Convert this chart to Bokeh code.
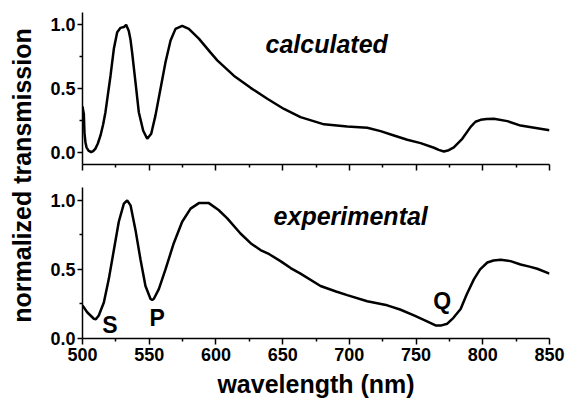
import math
from bokeh.plotting import figure
from bokeh.layouts import row, column
from bokeh.models import Range1d, FixedTicker, NumeralTickFormatter, Label, CustomJSTickFormatter
from bokeh.embed import file_html
from bokeh.resources import INLINE

# ---- data ----
calc_wl = [500, 501, 501.5, 502.2, 503, 504.5, 506.5, 508, 509.7, 511.5, 513.5, 515.5,
           517.2, 519, 521, 523.5, 526, 528.5, 531, 532.7, 534.7, 536, 537.2, 539.7,
           542.2, 545.5, 548.5, 551.5, 554.7, 558.5, 562.2, 566, 569.7, 574.7, 579.7,
           587.2, 596, 601, 613.4, 626, 638.5, 651, 663.4, 681, 698.4, 713.4, 723.4,
           733.4, 743.4, 753.4, 763.4, 767, 770.8, 774.5, 778.3, 784.6, 790.9, 794.5,
           798.4, 803, 808.3, 818.4, 828.3, 840.9, 850]
calc_tr = [0.36, 0.30, 0.15, 0.08, 0.04, 0.015, 0.003, 0.01, 0.03, 0.07, 0.133, 0.22,
           0.315, 0.45, 0.60, 0.81, 0.94, 0.974, 0.98, 0.998, 0.95, 0.88, 0.78, 0.55,
           0.315, 0.17, 0.107, 0.146, 0.29, 0.50, 0.705, 0.875, 0.966, 0.99, 0.966,
           0.89, 0.78, 0.72, 0.60, 0.505, 0.42, 0.34, 0.276, 0.22, 0.203, 0.193, 0.167,
           0.133, 0.099, 0.073, 0.037, 0.02, 0.008, 0.018, 0.04, 0.107, 0.20, 0.24,
           0.255, 0.262, 0.263, 0.245, 0.21, 0.19, 0.173]

exp_wl = [500, 503.5, 508.5, 510, 512.2, 516, 519.7, 523.5, 527.2, 531, 533.5, 536,
          539.7, 543.5, 547.2, 551, 552.2, 553.4, 557.2, 562.2, 568.4, 574.7, 581,
          587.2, 594.7, 602, 608.5, 618.4, 626, 633.4, 640, 648.4, 656, 663.4, 678.4,
          690, 698.4, 713.4, 728.4, 738, 748.4, 757, 764.6, 769, 773.4, 778, 783.4,
          788, 793.4, 798, 803.4, 808, 813.4, 820.8, 828.3, 835, 840.8, 850]
exp_tr = [0.24, 0.19, 0.143, 0.14, 0.167, 0.26, 0.43, 0.64, 0.845, 0.976, 1.0, 0.964,
          0.786, 0.57, 0.38, 0.286, 0.28, 0.286, 0.357, 0.50, 0.69, 0.845, 0.94,
          0.98, 0.98, 0.93, 0.87, 0.76, 0.69, 0.64, 0.61, 0.56, 0.51, 0.47, 0.38,
          0.34, 0.314, 0.27, 0.24, 0.21, 0.167, 0.13, 0.095, 0.095, 0.107, 0.15, 0.214,
          0.32, 0.43, 0.50, 0.55, 0.565, 0.57, 0.56, 0.536, 0.52, 0.505, 0.47]

x_major = [500, 550, 600, 650, 700, 750, 800, 850]
x_minor = [525, 575, 625, 675, 725, 775, 825]
y_major = [0.0, 0.5, 1.0]
y_minor = [0.25, 0.75]

panel_titles = ["calculated", "experimental"]
point_labels = ["S", "P", "Q"]
point_wl = [520.6, 556.0, 769.6]
point_tr = [0.10, 0.15, 0.27]

FONT = "Liberation Sans"
x_range = Range1d(500, 850)


def style(p, show_x_labels):
    p.grid.visible = False
    p.outline_line_color = None
    p.background_fill_color = "white"
    p.border_fill_color = "white"
    for ax in (p.xaxis[0], p.yaxis[0]):
        ax.axis_line_width = 1.5
        ax.axis_line_color = "black"
        ax.major_tick_line_width = 1.5
        ax.minor_tick_line_width = 1.5
        ax.major_tick_line_color = "black"
        ax.minor_tick_line_color = "black"
        ax.major_tick_in = 0
        ax.minor_tick_in = 0
        ax.major_label_text_font = FONT
        ax.major_label_text_font_style = "bold"
        ax.major_label_text_font_size = "18px"
        ax.major_label_text_color = "black"
    p.xaxis.ticker = FixedTicker(ticks=x_major, minor_ticks=x_minor)
    p.xaxis.major_tick_out = 6
    p.xaxis.minor_tick_out = 3
    p.yaxis.ticker = FixedTicker(ticks=y_major, minor_ticks=y_minor)
    p.yaxis.formatter = NumeralTickFormatter(format="0.0")
    p.yaxis.major_tick_out = 5
    p.yaxis.minor_tick_out = 3
    p.yaxis.major_label_standoff = 2
    if not show_x_labels:
        p.xaxis.formatter = CustomJSTickFormatter(code="return '';")
        p.xaxis.major_label_text_font_size = "1px"
        p.xaxis.major_label_standoff = 0


# ---- top panel: calculated ----
top = figure(width=525, height=176, x_range=x_range, y_range=Range1d(-0.094, 1.094),
             output_backend="svg", toolbar_location=None,
             min_border_left=40, min_border_right=18, min_border_top=12, min_border_bottom=12)
style(top, False)
top.line(calc_wl, calc_tr, line_color="black", line_width=2.5)
top.add_layout(Label(x=683, y=0.848, text=panel_titles[0], text_font=FONT,
                     text_font_style="bold italic", text_font_size="25px",
                     text_align="center", text_baseline="middle", text_color="black"))

# ---- bottom panel: experimental ----
bot = figure(width=525, height=224, x_range=x_range, y_range=Range1d(0.0, 1.093),
             output_backend="svg", toolbar_location=None,
             min_border_left=40, min_border_right=18, min_border_top=11, min_border_bottom=60)
style(bot, True)
bot.xaxis.major_label_standoff = 3
bot.xaxis.axis_label = "wavelength (nm)"
bot.xaxis.axis_label_text_font = FONT
bot.xaxis.axis_label_text_font_style = "bold"
bot.xaxis.axis_label_text_font_size = "25px"
bot.xaxis.axis_label_text_color = "black"
bot.xaxis.axis_label_standoff = 6
bot.line(exp_wl, exp_tr, line_color="black", line_width=2.5)
bot.add_layout(Label(x=701, y=0.89, text=panel_titles[1], text_font=FONT,
                     text_font_style="bold italic", text_font_size="25px",
                     text_align="center", text_baseline="middle", text_color="black"))
bot.text(x=point_wl, y=point_tr, text=point_labels, text_font={"value": FONT},
         text_font_style="bold", text_font_size="23px", text_align="center",
         text_baseline="middle", text_color="black")

# ---- y label strip ----
lab = figure(width=42, height=400, x_range=Range1d(0, 1), y_range=Range1d(0, 1),
             output_backend="svg", toolbar_location=None,
             x_axis_type=None, y_axis_type=None,
             min_border_left=0, min_border_right=0, min_border_top=0, min_border_bottom=0)
lab.grid.visible = False
lab.outline_line_color = None
lab.add_layout(Label(x=0.51, y=0.5625, text="normalized transmission", text_font=FONT,
                     text_font_style="bold", text_font_size="25px", angle=math.pi / 2,
                     text_align="center", text_baseline="middle", text_color="black"))

layout = row(lab, column(top, bot))
open("out.html", "w").write(file_html(layout, INLINE))
